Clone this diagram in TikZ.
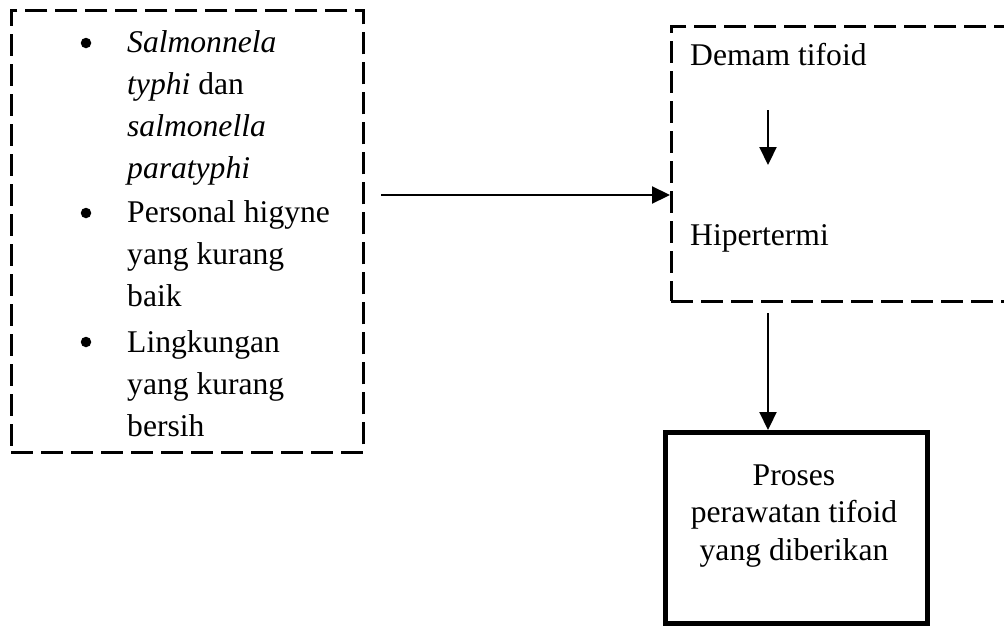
\documentclass[tikz,border=0pt]{standalone}
\usepackage{fontspec}
\setmainfont{Liberation Serif}
\usetikzlibrary{arrows.meta}
\begin{document}
\begin{tikzpicture}[x=1pt,y=-1pt,
  txt/.style={inner sep=0pt, font=\fontsize{31.6pt}{42pt}\selectfont},
  bul/.style={circle, fill, inner sep=0pt, minimum size=10.5pt},
  dashbox/.style={draw, line width=2.6pt, dash pattern=on 22pt off 8pt, inner sep=0pt},
  thickbox/.style={draw, line width=4.6pt, inner sep=0pt},
  arr/.style={line width=2.2pt, -{Triangle[length=18pt,width=17pt]}}]
\path[use as bounding box] (0,0) rectangle (1004,627);
\clip (0,0) rectangle (1004,627);
% left box
\node[dashbox, anchor=north west, minimum width=352pt, minimum height=442pt] (lbox) at (10,9) {};
\node[bul] (b1) at (86,43) {};
\node[bul] (b2) at (86,213) {};
\node[bul] (b3) at (86,342) {};
\node[txt, anchor=base west, align=left] (i1) at (127,178) {\textit{Salmonnela}\\\textit{typhi} dan\\\textit{salmonella}\\\textit{paratyphi}};
\node[txt, anchor=base west, align=left] (i2) at (127,306) {Personal higyne\\yang kurang\\baik};
\node[txt, anchor=base west, align=left] (i3) at (127,436) {Lingkungan\\yang kurang\\bersih};
% right box
\node[dashbox, anchor=north west, minimum width=380pt, minimum height=275pt] (rbox) at (670,25) {};
\node[txt, anchor=base west] (dem) at (690,65) {Demam tifoid};
\node[txt, anchor=base west] (hip) at (690,245) {Hipertermi};
% bottom box
\node[thickbox, anchor=north west, minimum width=262pt, minimum height=191pt] (pbox) at (663,430) {};
\node[txt, anchor=base, align=center, font=\fontsize{31.6pt}{37.5pt}\selectfont] (ptext) at (794,560) {Proses\\perawatan tifoid\\yang diberikan};
% connectors
\coordinate (h1) at (381,195);
\draw[arr] (h1) -- (rbox.west |- h1);
\coordinate (v1) at (768,110);
\coordinate (v2) at (768,165);
\draw[arr] (v1) -- (v2);
\coordinate (d1) at (768,313);
\draw[arr] (d1) -- (pbox.north -| d1);
\end{tikzpicture}
\end{document}
